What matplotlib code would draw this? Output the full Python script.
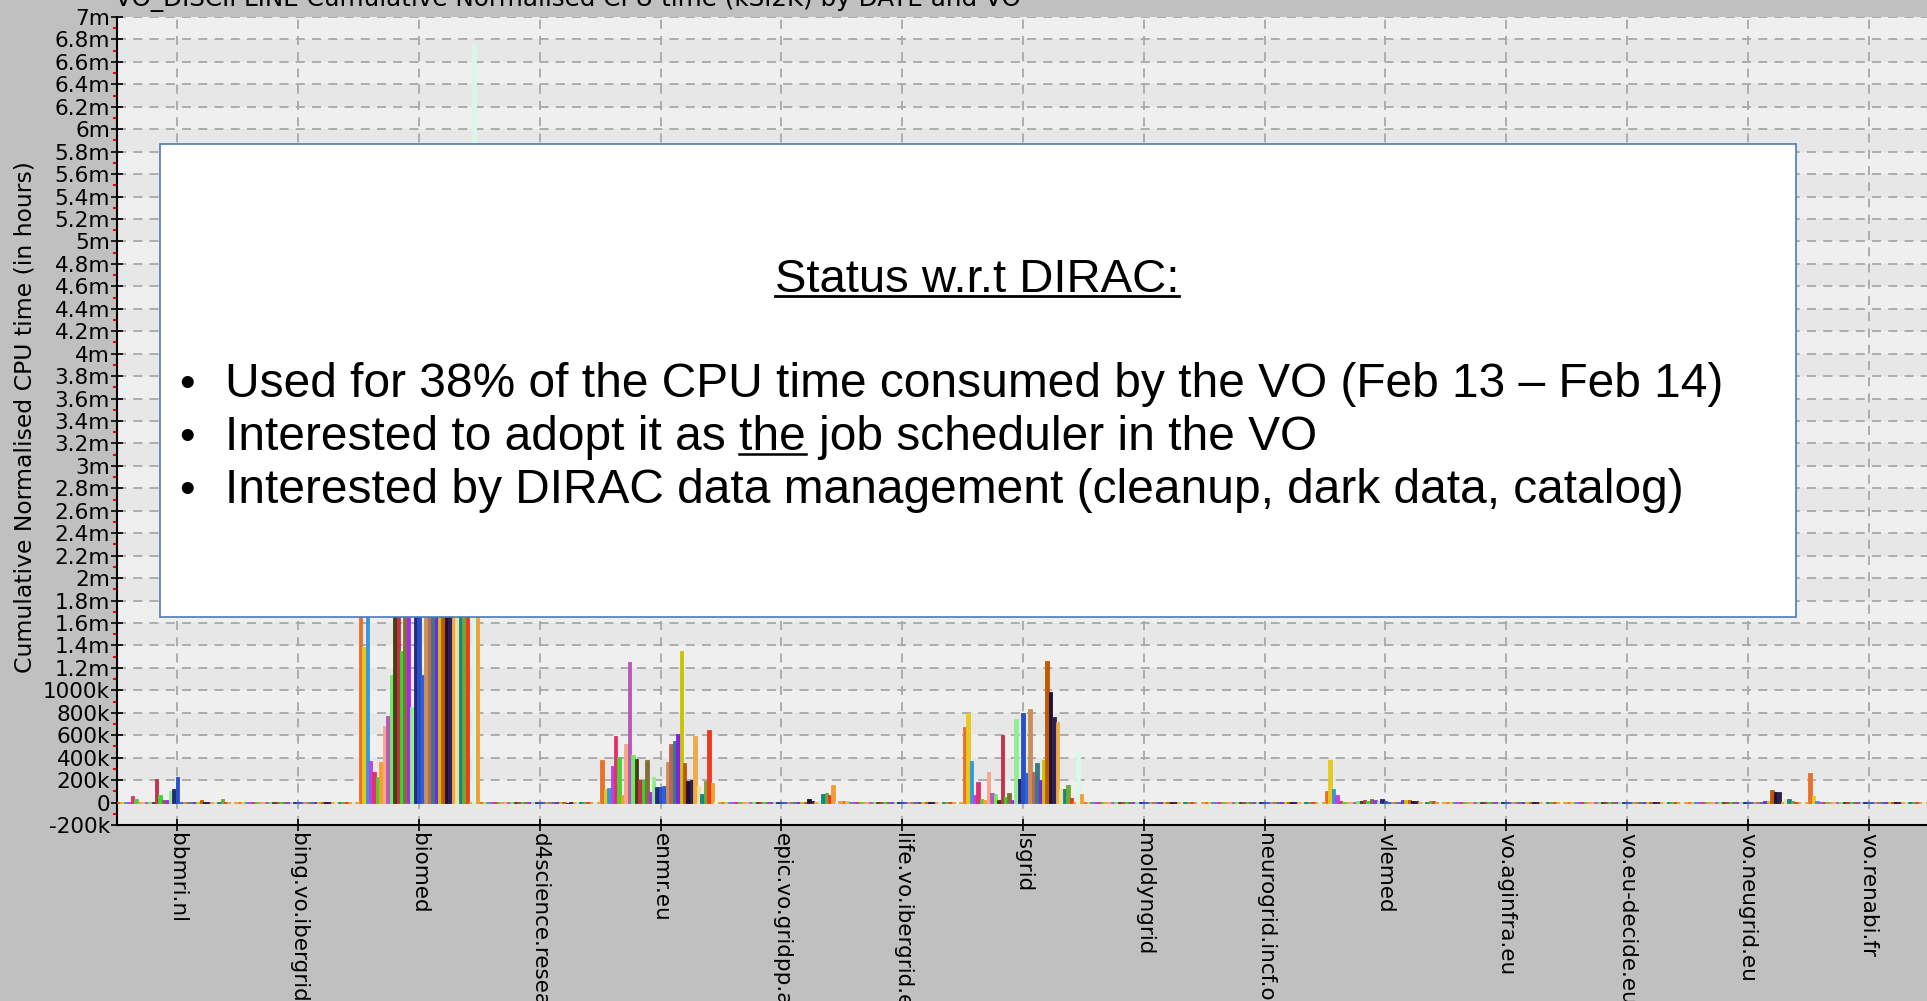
import matplotlib
matplotlib.use('Agg')
import numpy as np
import matplotlib.pyplot as plt
from matplotlib import font_manager
from matplotlib.patches import Rectangle
from matplotlib.lines import Line2D
from matplotlib.ticker import FuncFormatter, MultipleLocator

# VO names along the x axis
categories = ['bbmri.nl', 'bing.vo.ibergrid.eu', 'biomed',
              'd4science.research-infrastructures.eu', 'enmr.eu',
              'epic.vo.gridpp.ac.uk', 'life.vo.ibergrid.eu', 'lsgrid',
              'moldyngrid', 'neurogrid.incf.org', 'vlemed', 'vo.aginfra.eu',
              'vo.eu-decide.eu', 'vo.neugrid.eu', 'vo.renabi.fr']

# one bar per date inside each VO group, values in k hours
bbmri = [3, 2, 3, 2, 57, 36, 3, 2, 3, 2, 8, 206, 66, 20, 20, 105, 120, 225, 4, 6,
         5, 6, 3, 4, 20, 8, 6, 5, 4, 3, 36, 8, 5, 2, 2]
bing = [1, 2, 1, 3, 2, 1, 2, 1, 2, 3, 1, 2, 1, 2, 1, 3, 2, 1, 2, 1,
        3, 2, 1, 2, 1, 2, 3, 1, 2, 1, 2, 1, 3, 2, 1]
biomed = [2500, 1390, 2200, 372, 276, 229, 357, 686, 775, 1140, 3100, 2600, 1350, 2000, 3500,
          852, 2400, 2900, 1140, 3300, 2700, 1900, 3000, 2300, 4100, 3600, 2800, 2100, 3200, 2500,
          1900, 2600, 3, 6750, 1800]
d4science = [2, 1, 2, 4, 1, 3, 2, 1, 3, 2, 1, 2, 5, 1, 2, 3, 1, 2, 1, 4,
             2, 1, 3, 2, 1, -8, 1, 3, 2, 1, 2, 1, 2, 1, 2]
enmr = [377, 125, 130, 330, 590, 410, 70, 520, 1250, 420, 390, 200, 200, 380, 90,
        230, 135, 140, 150, 360, 520, 545, 610, 1350, 350, 190, 200, 590, 150, 80,
        190, 650, 170, 2, 1]
epic = [2, 1, 2, 3, 1, 2, 1, 2, 3, 1, 2, 2, 1, 3, 2, 1, 2, 1, 3, 2,
        1, 2, 3, 1, 8, 30, 15, 3, 10, 75, 85, 70, 160, 4, 12]
life = [18, 10, 2, 3, 1, 2, 1, 2, 3, 1, 2, 1, 3, 2, 1, 2, 3, 1, 2, 1,
        4, 2, 1, 2, 1, 3, 2, 1, 2, 1, 3, 1, 2, 1, 2]
lsgrid = [675, 800, 368, 71, 184, 36, 20, 273, 86, 74, 20, 600, 50, 86, 20,
          749, 214, 800, 259, 838, 273, 354, 205, 383, 1260, 987, 764, 719, 125, 119,
          160, 42, 3, 452, 80]
moldyngrid = [1, 2, 1, 2, 3, 1, 2, 1, 2, 1, 3, 2, 1, 2, 1, 2, 1, 3, 2, 1,
              2, 1, 2, 3, 1, 2, 1, 2, 1, 3, 2, 1, 2, 1, 2]
neurogrid = [2, 1, 2, 1, 2, 3, 1, 2, 1, 2, 1, 2, 3, 1, 2, 1, 2, 1, 2, 3,
             1, 2, 1, 2, 1, 2, 3, 1, 2, 1, 2, 1, 2, 3, 1]
vlemed = [103, 380, 123, 66, 10, 3, 2, 3, 4, 12, 18, 25, 15, 30, 22, 10, 28, 12, 5, 4,
          3, 8, 20, 25, 22, 18, 15, 5, 3, 2, 10, 15, 4, 2, 1]
aginfra = [2, 1, 3, 2, 1, 2, 1, 2, 3, 1, 2, 4, 5, 6, 4, 5, 3, 2, 1, 2,
           1, 3, 2, 1, 2, 1, 2, 1, 3, 2, 1, 2, 1, 2, 1]
eudecide = [1, 2, 1, 2, 1, 3, 2, 1, 2, 1, 2, 3, 1, 2, 1, 2, 4, 5, 4, 6,
            5, 3, 4, 2, 1, 2, 1, 3, 2, 1, 2, 1, 2, 1, 2]
neugrid = [2, 1, 2, 1, 3, 1, 2, 1, 2, 3, 1, 2, 1, 2, 1, 3, 2, 1, 2, 5,
           8, 4, 10, 15, 109, 94, 90, 5, 30, 35, 12, 2, 1, 2, 1]
renabi = [260, 60, 10, 5, 3, 2, 1, 2, 3, 1, 2, 1, 2, 3, 1, 2, 1, 2, 1, 3,
          2, 1, 2, 1, 2, 3, 1, 2, 1, 2, 1, 2, 1, 2, 1]

series = [bbmri, bing, biomed, d4science, enmr, epic, life, lsgrid, moldyngrid,
          neurogrid, vlemed, aginfra, eudecide, neugrid, renabi]

# colour of each date
date_colors = ['#e8702a', '#e8c81c', '#3399dd', '#c040e0', '#e03070', '#50d030', '#f4a030',
               '#f8a888', '#b858b8', '#70e870', '#484010', '#c83048', '#30d830', '#807038',
               '#a828f0', '#90ee90', '#282878', '#2850c8', '#3060d8', '#c89058', '#b86858',
               '#3a7888', '#8020e8', '#c8c400', '#c05800', '#201038', '#302050', '#f0a848',
               '#f0e098', '#108888', '#70a830', '#f03820', '#f0a030', '#d8f8e8', '#f0a030']

title = 'VO_DISCIPLINE Cumulative Normalised CPU time (kSI2K) by DATE and VO'
ylabel = 'Cumulative Normalised CPU time (in hours)'

W, H = 1927, 1001
fig = plt.figure(figsize=(W / 100, H / 100), dpi=100, facecolor='#c0c0c0')
ax = fig.add_axes([117 / W, (H - 825) / H, 16 * 120.8 / W, (825 - 17) / H])
ax.set_facecolor('#efefef')

n = len(date_colors)
x0 = np.arange(len(categories))
for i in range(n):
    vals = np.array([s[i] for s in series]) * 1000.0
    xs = x0 - 0.5 + (i + 0.5) / n
    ax.bar(xs, vals, width=1.0 / n, color=date_colors[i], edgecolor=date_colors[i],
           linewidth=0.6, zorder=3)

ax.set_xlim(-0.5, 15.5)
ax.set_ylim(-200000, 7000000)

# light banding behind the grid
for k, lo in enumerate(range(-200000, 7000000, 200000)):
    if k % 2 == 0:
        ax.axhspan(lo, lo + 200000, color='#e7e7e7', zorder=0, lw=0)

ax.yaxis.set_major_locator(MultipleLocator(200000))
ax.yaxis.set_minor_locator(MultipleLocator(100000))


def fmt(v, pos):
    if abs(v) < 1:
        return '0'
    if abs(v) < 1100000:
        return '%gk' % round(v / 1000)
    return '%gm' % round(v / 1e6, 1)


ax.yaxis.set_major_formatter(FuncFormatter(fmt))
ax.set_xticks(x0)
ax.set_xticklabels(categories, rotation=-90, ha='center', va='top')

ax.grid(True, which='major', color='#a8a8a8', linestyle=(0, (5, 4)), linewidth=1.3, zorder=1)
ax.set_axisbelow(True)
ax.tick_params(axis='both', which='major', direction='inout', length=8, width=1.2,
               color='black', labelsize=15.5, pad=2)
ax.tick_params(axis='y', which='minor', direction='out', length=3, width=1.5, color='red')
ax.tick_params(axis='y', which='major', pad=1)
for sp in ['top', 'right']:
    ax.spines[sp].set_visible(False)
for sp in ['left', 'bottom']:
    ax.spines[sp].set_color('black')
    ax.spines[sp].set_linewidth(1.5)

fig.text(568 / W, 1 - 6 / H, title, ha='center', va='baseline', fontsize=17.7)
fig.text(25 / W, 1 - 417 / H, ylabel, rotation=90, ha='center', va='center', fontsize=16.9)

# overlaid slide box
fig.add_artist(Rectangle((160 / W, 1 - 617 / H), (1796 - 160) / W, (617 - 144) / H,
                         transform=fig.transFigure, facecolor='white',
                         edgecolor='#5078b8', linewidth=1.2, zorder=10))

names = {f.name for f in font_manager.fontManager.ttflist}
narrow = 'Liberation Sans Narrow' if 'Liberation Sans Narrow' in names else 'Liberation Sans'

fig.canvas.draw()
r = fig.canvas.get_renderer()

head = fig.text(977 / W, 1 - 292 / H, 'Status w.r.t DIRAC:', ha='center', va='baseline',
                fontsize=34, family='Liberation Sans', zorder=11)
bb = head.get_window_extent(r)
fig.add_artist(Line2D([bb.x0 / W, bb.x1 / W], [(H - 296) / H] * 2, transform=fig.transFigure,
                      color='black', linewidth=2, zorder=11))

bullets = ['Used for 38% of the CPU time consumed by the VO (Feb 13 \u2013 Feb 14)',
           'Interested to adopt it as the job scheduler in the VO',
           'Interested by DIRAC data management (cleanup, dark data, catalog)']
baselines = [397, 450, 503]


def text_w(s, size):
    t = fig.text(0, 0, s, fontsize=size, family=narrow)
    w = t.get_window_extent(r).width
    t.remove()
    return w


# size the bullet font so the first line spans the same width as on the slide
bsize = 32 * 1498 / text_w(bullets[0], 32)

for txt, yb in zip(bullets, baselines):
    fig.text(187 / W, 1 - yb / H, '\u2022', ha='center', va='baseline', fontsize=32,
             family='Liberation Sans', zorder=11)
    fig.text(225 / W, 1 - yb / H, txt, ha='left', va='baseline', fontsize=bsize,
             family=narrow, zorder=11)

pre = 'Interested to adopt it as the'
x_end = 225 + text_w(pre, bsize)
x_start = x_end - text_w('the', bsize)
fig.add_artist(Line2D([x_start / W, x_end / W], [(H - 454) / H] * 2, transform=fig.transFigure,
                      color='black', linewidth=1.8, zorder=11))

fig.savefig('out.png', dpi=100, facecolor=fig.get_facecolor())
